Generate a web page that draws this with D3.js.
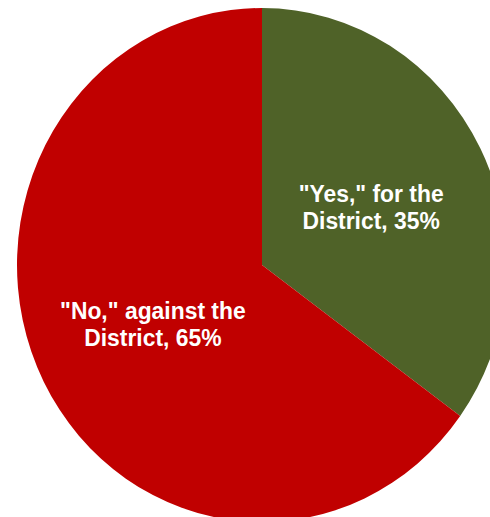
<!DOCTYPE html>
<html>
<head>
<meta charset="utf-8">
<script src="https://cdn.jsdelivr.net/npm/d3@7/dist/d3.min.js"></script>
<style>
  html, body { margin: 0; padding: 0; background: #fff; }
  svg { display: block; }
</style>
</head>
<body>
<svg id="chart" width="490" height="517"></svg>
<script>
const categories = ['"Yes," for the', '"No," against the'];
const labelSecondLines = ["District, 35%", "District, 65%"];
const values = [35, 65];
const colors = ["#4F6228", "#C00000"];

const W = 490, H = 517;
const cx = 262, cy = 265;
const R = 257;          // vertical radius
const sx = 245 / 257;   // horizontal squash (chart is slightly stretched)

const svg = d3.select("#chart");
const g = svg.append("g")
  .attr("transform", `translate(${cx},${cy}) scale(${sx},1)`);

const data = categories.map((c, i) => ({ cat: c, line2: labelSecondLines[i], value: values[i], color: colors[i] }));

const pie = d3.pie().sort(null).value(d => d.value);
const arc = d3.arc().innerRadius(0).outerRadius(R);
const arcs = pie(data);

g.selectAll("path.slice")
  .data(arcs)
  .join("path")
  .attr("class", "slice")
  .attr("d", arc)
  .attr("fill", d => d.data.color);

const labels = g.selectAll("text.lbl")
  .data(arcs)
  .join("text")
  .attr("class", "lbl")
  .attr("transform", d => { const [x, y] = arc.centroid(d); return `translate(${x},${y})`; })
  .attr("text-anchor", "middle")
  .attr("fill", "#ffffff")
  .attr("font-family", "Liberation Sans, Arial, sans-serif")
  .attr("font-weight", "bold")
  .attr("font-size", 24);

labels.append("tspan").attr("x", 0).attr("y", -4.4).text(d => d.data.cat);
labels.append("tspan").attr("x", 0).attr("y", 22.3).text(d => d.data.line2);
</script>
</body>
</html>
